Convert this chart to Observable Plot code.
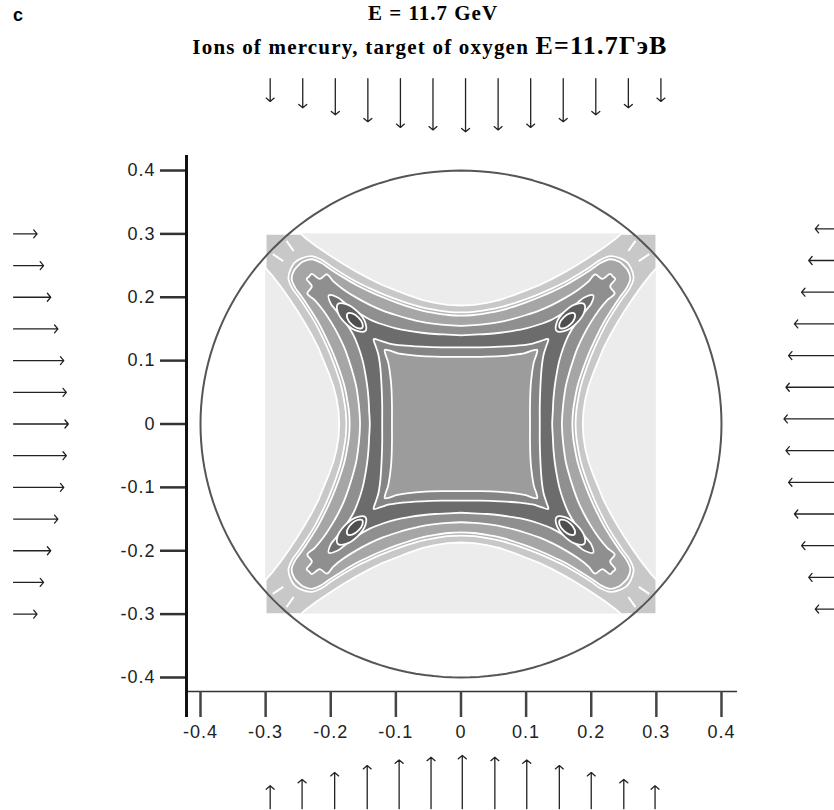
<!DOCTYPE html>
<html><head><meta charset="utf-8">
<script src="https://cdn.jsdelivr.net/npm/d3@7"></script>
<script src="https://cdn.jsdelivr.net/npm/@observablehq/plot@0.6"></script>
<style>
body{margin:0;background:#fff;width:834px;height:810px;overflow:hidden}
#head{position:relative;height:62px;width:834px}
.tag{position:absolute;left:13px;top:6px;font:bold 18px "Liberation Sans",Arial,sans-serif;line-height:18px}
.t1{position:absolute;left:0;width:866px;top:3px;text-align:center;font:bold 21px "Liberation Serif","Times New Roman",serif;line-height:21px;letter-spacing:1px}
.t2{position:absolute;left:0;width:860px;top:33px;text-align:center;font:bold 21px "Liberation Serif","Times New Roman",serif;line-height:26px;letter-spacing:1.2px}
.t2 .big{font-size:26px}
</style></head>
<body>
<div id="head">
  <div class="tag">c</div>
  <div class="t1">E = 11.7 GeV</div>
  <div class="t2">Ions of mercury, target of oxygen <span class="big">E=11.7ГэВ</span></div>
</div>
<div id="chart"></div>
<script>
// ---- axis ticks ----
const xTicks = [-0.4, -0.3, -0.2, -0.1, 0, 0.1, 0.2, 0.3, 0.4];
const xTickLabels = ["-0.4", "-0.3", "-0.2", "-0.1", "0", "0.1", "0.2", "0.3", "0.4"];
const yTicks = [0.4, 0.3, 0.2, 0.1, 0, -0.1, -0.2, -0.3, -0.4];
const yTickLabels = ["0.4", "0.3", "0.2", "0.1", "0", "-0.1", "-0.2", "-0.3", "-0.4"];

// ---- geometry ----
const vesselRadius = 0.4;      // circle
const gridHalfWidth = 0.3;     // computed square region

// ---- contour boundaries, one octant each (from the x axis to the diagonal) ----
const contourA = [[0.187,0],[0.188,0.02],[0.191,0.04],[0.196,0.06],[0.203,0.08],[0.211,0.10],[0.219,0.12],[0.229,0.14],[0.240,0.16],[0.252,0.18],[0.265,0.20],[0.279,0.22],[0.292,0.237],[0.300,0.246],[0.300,0.300]];
const contourB = [[0.176,0],[0.177,0.02],[0.180,0.04],[0.184,0.06],[0.190,0.08],[0.197,0.10],[0.205,0.12],[0.214,0.14],[0.224,0.16],[0.236,0.18],[0.249,0.20],[0.259,0.214],[0.265,0.230],[0.261,0.246],[0.255,0.255]];
const contourC = [[0.171,0],[0.172,0.02],[0.175,0.04],[0.179,0.06],[0.185,0.08],[0.192,0.10],[0.200,0.12],[0.209,0.14],[0.219,0.16],[0.231,0.18],[0.244,0.20],[0.254,0.214],[0.260,0.229],[0.256,0.243],[0.250,0.250]];
const contourD = [[0.155,0],[0.156,0.02],[0.158,0.04],[0.161,0.06],[0.166,0.08],[0.172,0.10],[0.179,0.12],[0.188,0.14],[0.199,0.16],[0.212,0.18],[0.225,0.196],[0.236,0.206],[0.229,0.217],[0.237,0.229],[0.233,0.233]];
const contourE = [[0.140,0],[0.141,0.02],[0.142,0.04],[0.144,0.06],[0.147,0.08],[0.151,0.10],[0.157,0.12],[0.165,0.14],[0.177,0.16],[0.190,0.177],[0.200,0.190],[0.203,0.203]];
const contourF = [[0.121,0],[0.121,0.03],[0.122,0.06],[0.124,0.09],[0.127,0.11],[0.131,0.123],[0.134,0.134]];
const contourG = [[0.106,0],[0.106,0.03],[0.107,0.06],[0.109,0.08],[0.112,0.098],[0.116,0.11],[0.117,0.117]];
const levelFills = ["#c8c8c8", "#b6b6b6", "#a6a6a6", "#8f8f8f", "#6c6c6c", "#858585", "#9c9c9c"];

// peaks on the diagonals: centre and outline offsets (along / across the diagonal)
const peakOuterCentre = 0.168;
const peakOuter = [[0.03,0],[0.021,0.009],[0,0.013],[-0.021,0.009],[-0.03,0],[-0.021,-0.009],[0,-0.013],[0.021,-0.009]];
const peakInnerCentre = 0.163;
const peakInner = [[0.016,0],[0.011,0.0053],[0,0.0075],[-0.011,0.0053],[-0.016,0],[-0.011,-0.0053],[0,-0.0075],[0.011,-0.0053]];
const peakFills = ["#5e5e5e", "#4e4e4e"];

// small white contour fragments in the arms (first quadrant)
const armDashes = [[0.257,0.273,0.268,0.289],[0.273,0.257,0.289,0.268]];

// ---- beam arrows ----
const arrowLengths = [0.036,0.046,0.057,0.068,0.077,0.081,0.084,0.081,0.077,0.068,0.057,0.046,0.036];
const topArrowX    = [-0.293,-0.243,-0.193,-0.143,-0.093,-0.043,0.007,0.057,0.107,0.157,0.207,0.257,0.307];
const bottomArrowX = [-0.293,-0.244,-0.194,-0.144,-0.095,-0.046,0.002,0.052,0.101,0.151,0.200,0.250,0.298];
const leftArrowY   = [0.3,0.25,0.2,0.15,0.1,0.05,0,-0.05,-0.1,-0.15,-0.2,-0.25,-0.3];
const rightArrowY  = [0.308,0.258,0.208,0.158,0.108,0.058,0.008,-0.042,-0.092,-0.142,-0.192,-0.242,-0.292];

// ---- layout constants (data units) ----
const xDomain = [-0.4215, 0.4246];
const yDomain = [-0.4221, 0.4237];
const yAxisLow = -0.463;
const topArrowBase = 0.545, bottomArrowBase = -0.607, leftArrowBase = -0.687, rightArrowBase = 0.58;

// mirror an octant into a closed loop with the 8-fold symmetry of the picture
function loop(oct) {
  const q1 = oct.concat(oct.slice(0, -1).reverse().map(([x, y]) => [y, x]));
  const q2 = q1.slice().reverse().map(([x, y]) => [-x, y]).slice(1);
  const q3 = q1.map(([x, y]) => [-x, -y]).slice(1);
  const q4 = q1.slice().reverse().map(([x, y]) => [x, -y]).slice(1, -1);
  return q1.concat(q2, q3, q4).map(([x, y]) => ({x, y}));
}
const quads = [[1,1],[-1,1],[-1,-1],[1,-1]];
function peaks(centre, pts) {
  const out = [];
  const r = Math.SQRT1_2;
  quads.forEach(([sx, sy], k) => pts.forEach(([u, v]) => out.push({
    x: sx * (centre + (u - v) * r), y: sy * (centre + (u + v) * r), k})));
  return out;
}
const dashes = [];
quads.forEach(([sx, sy]) => armDashes.forEach(([a, b, c, d]) => dashes.push({x1: sx*a, y1: sy*b, x2: sx*c, y2: sy*d})));
const circle = d3.range(0, 361, 2).map(a => ({x: vesselRadius * Math.cos(a * Math.PI / 180), y: vesselRadius * Math.sin(a * Math.PI / 180)}));

const contours = [contourA, contourB, contourC, contourD, contourE];
const white = {stroke: "white", strokeWidth: 1.8};

const marks = [
  Plot.rect([gridHalfWidth], {x1: d => -d, x2: d => d, y1: d => -d, y2: d => d, fill: "#ececec"}),
  ...contours.map((c, i) => Plot.line(loop(c), {x: "x", y: "y", fill: levelFills[i], ...white, curve: i === 0 ? "linear-closed" : "catmull-rom-closed"})),
  Plot.line(peaks(peakOuterCentre, peakOuter), {x: "x", y: "y", z: "k", fill: peakFills[0], ...white, curve: "catmull-rom-closed"}),
  Plot.line(peaks(peakInnerCentre, peakInner), {x: "x", y: "y", z: "k", fill: peakFills[1], ...white, curve: "catmull-rom-closed"}),
  Plot.line(loop(contourF), {x: "x", y: "y", fill: levelFills[5], ...white, curve: "catmull-rom-closed"}),
  Plot.line(loop(contourG), {x: "x", y: "y", fill: levelFills[6], ...white, curve: "catmull-rom-closed"}),
  Plot.link(dashes, {x1: "x1", y1: "y1", x2: "x2", y2: "y2", stroke: "white", strokeWidth: 2}),
  Plot.line(circle, {x: "x", y: "y", stroke: "#555", strokeWidth: 2, curve: "linear-closed"}),
  // axes
  Plot.ruleY([yDomain[0]], {x1: xDomain[0], x2: xDomain[1], stroke: "#333", strokeWidth: 1.5}),
  Plot.axisX(xTicks, {anchor: "bottom", tickSize: 26, tickPadding: 8, strokeWidth: 2.5, stroke: "#444", tickFormat: d => xTickLabels[xTicks.indexOf(d)], fontSize: 18}),
  Plot.axisY(yTicks, {anchor: "left", tickSize: 26, tickPadding: 5, strokeWidth: 2.5, stroke: "#333", tickFormat: d => yTickLabels[yTicks.indexOf(d)], fontSize: 18}),
  Plot.ruleX([xDomain[0]], {y1: yAxisLow, y2: yDomain[1], stroke: "#111", strokeWidth: 3}),
  // arrows
  Plot.arrow(topArrowX, {x: d => d, y1: topArrowBase, y2: (d, i) => topArrowBase - arrowLengths[i], stroke: "#222", strokeWidth: 1.3, headLength: 6, headAngle: 100}),
  Plot.arrow(bottomArrowX, {x: d => d, y1: bottomArrowBase, y2: (d, i) => bottomArrowBase + arrowLengths[i], stroke: "#222", strokeWidth: 1.3, headLength: 6, headAngle: 100}),
  Plot.arrow(leftArrowY, {y: d => d, x1: leftArrowBase, x2: (d, i) => leftArrowBase + arrowLengths[i], stroke: "#222", strokeWidth: 1.3, headLength: 6, headAngle: 100}),
  Plot.arrow(rightArrowY, {y: d => d, x1: rightArrowBase, x2: (d, i) => rightArrowBase - arrowLengths[i], stroke: "#222", strokeWidth: 1.3, headLength: 6, headAngle: 100})
];

const chart = Plot.plot({
  width: 834, height: 748,
  marginLeft: 186, marginRight: 97, marginTop: 93, marginBottom: 119,
  x: {domain: xDomain, axis: null},
  y: {domain: yDomain, axis: null},
  style: {fontFamily: '"Liberation Sans", Arial, sans-serif', fontSize: "18px", color: "#222", letterSpacing: "1px", background: "white"},
  marks
});
document.getElementById("chart").appendChild(chart);
</script>
</body></html>
